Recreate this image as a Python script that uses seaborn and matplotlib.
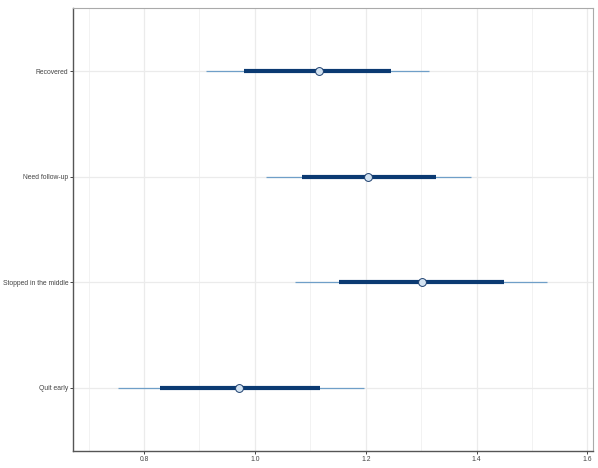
import matplotlib
matplotlib.use("Agg")
import matplotlib.pyplot as plt
import seaborn as sns
import pandas as pd
from matplotlib.ticker import MultipleLocator

# estimates (bottom to top)
categories = ["Quit early", "Stopped in the middle", "Need follow-up", "Recovered"]
estimate = [0.972, 1.302, 1.204, 1.115]
inner_low = [0.829, 1.152, 1.085, 0.980]
inner_high = [1.118, 1.449, 1.326, 1.245]
outer_low = [0.754, 1.072, 1.021, 0.912]
outer_high = [1.197, 1.527, 1.390, 1.315]

df = pd.DataFrame({
    "category": categories,
    "estimate": estimate,
    "inner_low": inner_low,
    "inner_high": inner_high,
    "outer_low": outer_low,
    "outer_high": outer_high,
})

sns.set_theme(style="white")
plt.rcParams["font.family"] = ["Liberation Sans", "DejaVu Sans"]

fig = plt.figure(figsize=(5.98, 4.68), dpi=100)
ax = fig.add_axes([0.1221, 0.0363, 0.8695, 0.9467])

# outer interval, inner interval, then the point
ax.hlines(df["category"], df["outer_low"], df["outer_high"], color="#6f9fc8", lw=0.9, zorder=2)
ax.hlines(df["category"], df["inner_low"], df["inner_high"], color="#0b3a72", lw=3.0, zorder=3)
sns.scatterplot(data=df, x="estimate", y="category", ax=ax, s=32, color="#d3e3f2",
                edgecolor="#1d3f6e", linewidth=0.7, zorder=4, legend=False)

ax.set_xlim(0.672, 1.610)
ax.set_ylim(-0.6, 3.6)
ax.xaxis.set_major_locator(MultipleLocator(0.2))
ax.xaxis.set_minor_locator(MultipleLocator(0.1))
ax.grid(True, which="major", color="#ebebeb", lw=0.9)
ax.grid(True, which="minor", axis="x", color="#f2f2f2", lw=0.7)
ax.set_axisbelow(True)

ax.set_xlabel("")
ax.set_ylabel("")
ax.tick_params(axis="both", which="major", labelsize=4.9, colors="#444444",
               length=2.0, width=0.7, direction="out", pad=1.3, left=True, bottom=True)
ax.tick_params(axis="x", which="minor", length=0)
for lab in ax.get_xticklabels() + ax.get_yticklabels():
    lab.set_color("#444444")

for side in ["left", "bottom"]:
    ax.spines[side].set_color("#555555")
    ax.spines[side].set_linewidth(1.0)
for side in ["top", "right"]:
    ax.spines[side].set_color("#aaaaaa")
    ax.spines[side].set_linewidth(0.8)

fig.savefig("out.png", dpi=100)
